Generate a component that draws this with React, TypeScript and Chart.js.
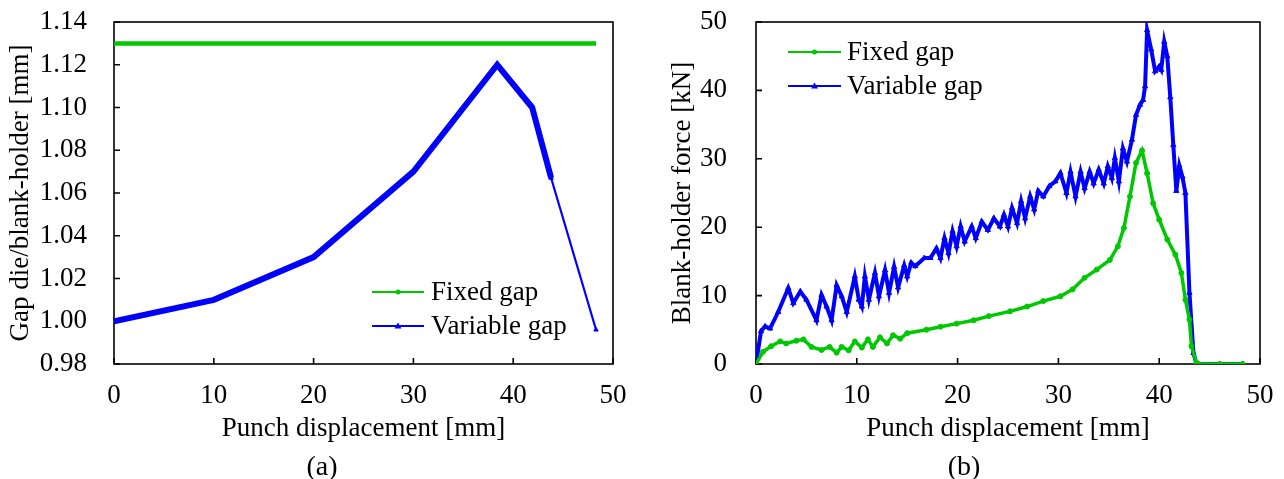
import React, { useEffect, useRef } from "react";
import { Chart, registerables } from "chart.js";

Chart.register(...registerables);

const FONT = "'Liberation Serif', 'Times New Roman', serif";
const GREEN = "#00c800";
const BLUE = "#0000ff";

// ---------- (a) Gap die/blank-holder ----------
const gapFixedX = [0, 10, 20, 30, 40, 48.3];
const gapFixedY = [1.13, 1.13, 1.13, 1.13, 1.13, 1.13];
const gapVarX = [0, 10, 20, 30, 38.4, 41.9, 43.8, 48.3];
const gapVarY = [1.0, 1.01, 1.03, 1.07, 1.12, 1.1, 1.067, 0.996];
const gapYTicks = { min: 0.98, max: 1.14, step: 0.02 };

// ---------- (b) Blank-holder force ----------
const forceFixedX = [0, 0.7, 1.5, 2.4, 3.0, 4.0, 4.7, 5.5, 6.5, 7.3, 8.0, 8.5, 9.2, 9.8, 10.5, 11.1, 11.6, 12.3, 13.0, 13.6, 14.3, 15.0, 16.9, 18.3, 19.9, 21.6, 23.1, 25.2, 26.9, 28.5, 30.2, 31.4, 32.6, 33.8, 35.1, 35.9, 36.5, 37.1, 37.7, 38.3, 38.8, 39.4, 40.0, 40.8, 41.6, 42.2, 42.6, 43.0, 43.2, 43.7, 43.9, 46.0, 48.3];
const forceFixedY = [0, 1.8, 2.6, 3.3, 3.0, 3.4, 3.6, 2.5, 2.05, 2.5, 1.65, 2.5, 2.0, 3.3, 2.4, 3.6, 2.5, 3.9, 3.0, 4.2, 3.7, 4.5, 5.0, 5.45, 5.9, 6.4, 7.0, 7.7, 8.4, 9.2, 9.9, 10.9, 12.6, 13.8, 15.2, 17.2, 19.9, 24.5, 29.4, 31.2, 27.9, 23.5, 21.1, 18.2, 16.0, 13.3, 9.4, 6.5, 2.6, 0.15, 0, 0, 0];
const forceVarX = [0, 0.5, 0.9, 1.4, 2.2, 3.2, 3.7, 4.4, 5.0, 6.0, 6.5, 7.0, 7.5, 8.0, 8.5, 9.0, 9.8, 10.2, 10.5, 10.8, 11.2, 11.8, 12.2, 12.8, 13.2, 13.7, 14.1, 14.7, 15.0, 15.4, 15.8, 16.7, 17.3, 17.9, 18.3, 18.7, 19.1, 19.5, 19.9, 20.3, 20.7, 21.4, 21.8, 22.4, 23.0, 23.6, 24.2, 24.6, 25.0, 25.4, 25.9, 26.3, 26.7, 27.2, 27.6, 28.0, 28.5, 29.1, 29.7, 30.2, 30.8, 31.2, 31.7, 32.2, 32.6, 33.1, 33.5, 34.0, 34.5, 34.9, 35.3, 35.6, 36.0, 36.4, 36.8, 37.3, 37.7, 38.1, 38.4, 38.6, 38.8, 39.2, 39.6, 40.0, 40.2, 40.5, 40.8, 41.1, 41.4, 41.7, 42.0, 42.3, 42.6, 43.0, 43.4, 43.7, 46.0, 48.3];
const forceVarY = [0, 4.8, 5.5, 5.2, 7.6, 11.1, 8.9, 10.6, 9.4, 6.4, 10.1, 8.4, 6.4, 11.5, 9.9, 7.6, 12.8, 9.4, 8.4, 12.8, 9.4, 13.3, 9.9, 13.7, 10.4, 14.2, 11.2, 14.4, 12.8, 14.8, 14.3, 15.5, 15.5, 16.9, 15.5, 18.4, 16.2, 19.4, 17.2, 20.1, 17.9, 20.1, 18.4, 20.8, 19.6, 21.3, 20.1, 21.8, 20.1, 22.8, 20.6, 23.8, 21.3, 24.5, 22.6, 25.3, 24.5, 26.0, 26.7, 27.9, 25.0, 28.1, 24.5, 28.1, 25.7, 28.1, 26.4, 28.4, 26.4, 28.9, 27.2, 30.1, 26.7, 31.5, 29.6, 32.8, 36.4, 37.9, 38.6, 40.6, 48.8, 46.0, 42.8, 43.5, 43.0, 47.1, 45.0, 39.0, 32.0, 25.3, 29.0, 27.4, 25.0, 10.4, 1.6, 0, 0, 0];
const forceYTicks = { min: 0, max: 50, step: 10 };

const xTicks = { min: 0, max: 50, step: 10 };
const seriesLabels = ["Fixed gap", "Variable gap"];

const toPoints = (xs: number[], ys: number[]) => xs.map((x, i) => ({ x, y: ys[i] }));

const frameTicks = {
  id: "frameTicks",
  beforeDatasetsDraw(chart: any) {
    const { ctx, chartArea: a, scales } = chart;
    ctx.save();
    ctx.strokeStyle = "#000";
    ctx.lineWidth = 1.6;
    ctx.strokeRect(a.left, a.top, a.right - a.left, a.bottom - a.top);
    const len = 6;
    ctx.beginPath();
    scales.x.ticks.forEach((t: any) => {
      const px = scales.x.getPixelForValue(t.value);
      ctx.moveTo(px, a.bottom);
      ctx.lineTo(px, a.bottom - len);
    });
    scales.y.ticks.forEach((t: any) => {
      const py = scales.y.getPixelForValue(t.value);
      ctx.moveTo(a.left, py);
      ctx.lineTo(a.left + len, py);
    });
    ctx.stroke();
    ctx.restore();
  },
};

const boxLegend = {
  id: "boxLegend",
  afterDatasetsDraw(chart: any, _args: any, opts: any) {
    const { ctx, chartArea: a } = chart;
    ctx.save();
    chart.data.datasets.forEach((ds: any, i: number) => {
      const x0 = a.left + opts.dx;
      const y = a.top + opts.dy + i * opts.rowGap;
      const x1 = x0 + opts.lineLen;
      ctx.strokeStyle = ds.borderColor;
      ctx.fillStyle = ds.borderColor;
      ctx.lineWidth = opts.lineWidth;
      ctx.beginPath();
      ctx.moveTo(x0, y);
      ctx.lineTo(x1, y);
      ctx.stroke();
      const mx = (x0 + x1) / 2;
      ctx.beginPath();
      if (ds.pointStyle === "triangle") {
        ctx.moveTo(mx, y - 3.5);
        ctx.lineTo(mx + 3.5, y + 2.5);
        ctx.lineTo(mx - 3.5, y + 2.5);
        ctx.closePath();
      } else {
        ctx.arc(mx, y, 2.5, 0, Math.PI * 2);
      }
      ctx.fill();
      ctx.fillStyle = "#000";
      ctx.font = `27px ${FONT}`;
      ctx.textBaseline = "middle";
      ctx.textAlign = "left";
      ctx.fillText(ds.label, x1 + opts.textGap, y + 1);
    });
    ctx.restore();
  },
};

function buildConfig(p: any) {
  return {
    type: "line",
    data: { datasets: p.datasets },
    plugins: [frameTicks, boxLegend],
    options: {
      animation: false,
      responsive: false,
      devicePixelRatio: 1,
      layout: { padding: { top: 22, right: p.padRight, left: 0, bottom: 0 } },
      plugins: {
        legend: { display: false },
        tooltip: { enabled: false },
        boxLegend: p.legend,
      },
      scales: {
        x: {
          type: "linear",
          min: xTicks.min,
          max: xTicks.max,
          afterFit: (s: any) => {
            s.height = 115;
            s.paddingLeft = 0;
            s.paddingRight = 0;
          },
          grid: { display: false },
          border: { display: false },
          ticks: { stepSize: xTicks.step, color: "#000", padding: 8, font: { family: FONT, size: 27 }, maxRotation: 0 },
          title: { display: true, text: "Punch displacement [mm]", color: "#000", font: { family: FONT, size: 27 }, padding: { top: 0, bottom: 34 } },
        },
        y: {
          type: "linear",
          min: p.y.min,
          max: p.y.max,
          afterFit: (s: any) => {
            s.width = p.yWidth;
            s.paddingTop = 0;
            s.paddingBottom = 0;
          },
          grid: { display: false },
          border: { display: false },
          ticks: { stepSize: p.y.step, color: "#000", padding: p.yPad, font: { family: FONT, size: 27 }, callback: p.yFmt },
          title: { display: true, text: p.yTitle, color: "#000", font: { family: FONT, size: 27 }, padding: { top: p.yTitlePad, bottom: 0 } },
        },
      },
    },
  };
}

function Panel({ left, width, config, caption }: any) {
  const ref = useRef<HTMLCanvasElement>(null);
  useEffect(() => {
    const chart = new Chart(ref.current as HTMLCanvasElement, config);
    return () => chart.destroy();
  }, []);
  return (
    <div style={{ position: "absolute", left, top: 0, width, height: 479 }}>
      <canvas ref={ref} width={width} height={479} style={{ display: "block" }} />
      <div style={{ position: "absolute", left: 2, top: 452, width, textAlign: "center", fontFamily: FONT, fontSize: 28, lineHeight: "28px", color: "#000" }}>{caption}</div>
    </div>
  );
}

const configA = buildConfig({
  padRight: 27,
  yWidth: 114,
  yPad: 19,
  yTitlePad: 5,
  yTitle: "Gap die/blank-holder [mm]",
  y: gapYTicks,
  yFmt: (v: number) => v.toFixed(2),
  legend: { dx: 258, dy: 270, rowGap: 34, lineLen: 52, textGap: 7, lineWidth: 2 },
  datasets: [
    { label: seriesLabels[0], data: toPoints(gapFixedX, gapFixedY), borderColor: GREEN, backgroundColor: GREEN, borderWidth: 4.5, pointRadius: 0, pointStyle: "circle", tension: 0 },
    {
      label: seriesLabels[1], data: toPoints(gapVarX, gapVarY), borderColor: BLUE, backgroundColor: BLUE, borderWidth: 6, pointStyle: "triangle", tension: 0,
      pointBorderWidth: 1,
      pointRadius: (c: any) => (c.raw && c.raw.x >= 43.5 ? 2.5 : 0),
      segment: { borderWidth: (c: any) => (c.p0.parsed.x >= 43.5 ? 2.2 : 6) },
    },
  ],
});

const configB = buildConfig({
  padRight: 24,
  yWidth: 116,
  yPad: 21,
  yTitlePad: 27,
  yTitle: "Blank-holder force [kN]",
  y: forceYTicks,
  yFmt: (v: number) => String(v),
  legend: { dx: 32, dy: 30, rowGap: 34, lineLen: 53, textGap: 6, lineWidth: 2 },
  datasets: [
    { label: seriesLabels[0], data: toPoints(forceFixedX, forceFixedY), borderColor: GREEN, backgroundColor: GREEN, borderWidth: 3.5, pointRadius: 2.5, pointBorderWidth: 1, pointStyle: "circle", tension: 0 },
    { label: seriesLabels[1], data: toPoints(forceVarX, forceVarY), borderColor: BLUE, backgroundColor: BLUE, borderWidth: 4, pointRadius: 3, pointBorderWidth: 1, pointStyle: "triangle", tension: 0 },
  ],
});

export default function App() {
  useEffect(() => {
    document.body.style.margin = "0";
  }, []);
  return (
    <div style={{ position: "relative", width: 1284, height: 479, background: "#fff" }}>
      <Panel left={0} width={640} config={configA} caption="(a)" />
      <Panel left={640} width={644} config={configB} caption="(b)" />
    </div>
  );
}
